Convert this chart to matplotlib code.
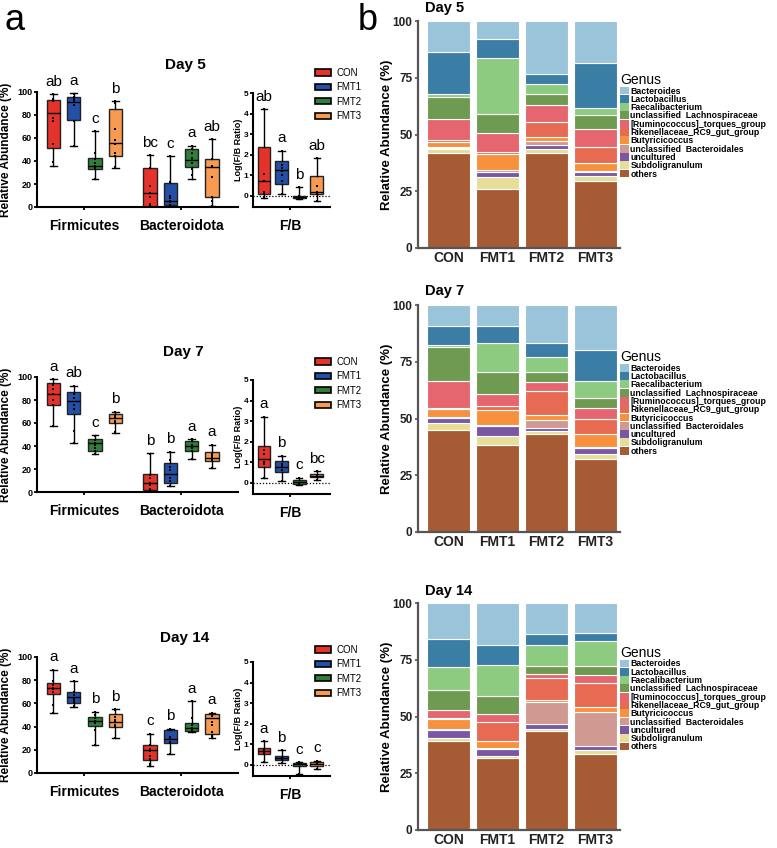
import matplotlib
matplotlib.use("Agg")
import matplotlib.pyplot as plt
from matplotlib.patches import Patch
import numpy as np

plt.rcParams['font.family'] = ['Liberation Sans', 'DejaVu Sans']

# ---------------- panel a : box plots ----------------
groups = ["CON", "FMT1", "FMT2", "FMT3"]
box_colors = ["#E5322A", "#2350A6", "#2F7F3A", "#F79A52"]
phyla = ["Firmicutes", "Bacteroidota"]
days = ["Day 5", "Day 7", "Day 14"]

# box stats per group: [whislo, q1, med, q3, whishi]
d5_firm_box = [[36, 51, 82, 93, 98], [53, 76, 91, 96, 99], [24, 33, 36, 43, 66], [34, 44, 56, 85, 92]]
d5_bac_box = [[0, 0, 12, 34, 45], [0, 2, 5, 21, 44], [24, 35, 41, 50, 53], [1, 9, 35, 42, 59]]
d5_fb_box = [[-0.1, 0.1, 0.7, 2.35, 4.2], [0.08, 0.55, 1.25, 1.7, 2.2], [-0.15, -0.12, -0.08, 0.0, 0.42], [-0.25, 0.1, 0.2, 0.97, 1.82]]
d5_firm_pts = [[98, 94, 92, 77, 75, 55, 39], [98, 96, 95, 93, 91, 89, 75, 53], [66, 47, 42, 38, 36, 35, 33, 24], [92, 90, 68, 58, 55, 47, 44, 35]]
d5_bac_pts = [[45, 34, 18, 12, 9, 3, 1], [44, 22, 10, 8, 5, 4, 2, 1], [53, 50, 47, 43, 41, 38, 33, 28], [59, 42, 36, 35, 26, 9, 5, 1]]
d5_fb_pts = [[4.2, 1.05, 0.7, 0.2, 0.1, -0.1], [2.2, 1.5, 1.35, 1.2, 1.0, 0.7, 0.1], [0.42, 0.0, -0.08, -0.12, -0.15], [1.82, 0.45, 0.2, 0.1, -0.25]]
d5_letters = [["ab", "a", "c", "b"], ["bc", "c", "a", "ab"], ["ab", "a", "b", "ab"]]

d7_firm_box = [[57, 76, 85, 95, 98], [43, 68, 79, 87, 92.5], [33, 36, 43, 46, 49.5], [51.5, 60, 64, 68, 70]]
d7_bac_box = [[0, 2, 7.5, 16, 33.5], [5, 7.5, 16, 25, 35], [29, 36, 40, 44, 46], [21, 27, 30, 35, 41]]
d7_fb_box = [[0.22, 0.75, 1.15, 1.78, 3.2], [0.08, 0.5, 0.78, 1.08, 1.3], [-0.1, -0.05, 0.02, 0.12, 0.25], [0.15, 0.28, 0.33, 0.42, 0.55]]
d7_firm_pts = [[98, 93, 90, 85, 80, 76, 57], [92, 85, 82, 76, 72, 53, 43], [49, 45, 43, 41, 38, 36, 33], [70, 66, 64, 62, 61, 60, 52]]
d7_bac_pts = [[33, 15, 12, 8, 6, 3, 1], [35, 28, 22, 19, 12, 10, 5], [46, 44, 41, 39, 38, 36, 29], [41, 33, 31, 30, 29, 28, 21]]
d7_fb_pts = [[3.2, 1.6, 1.4, 1.0, 0.9, 0.22], [1.3, 0.9, 0.8, 0.6, 0.1], [0.25, 0.0, -0.1], [0.55, 0.33, 0.15]]
d7_letters = [["a", "ab", "c", "b"], ["b", "b", "a", "a"], ["a", "b", "c", "bc"]]

d14_firm_box = [[51.5, 68, 73, 78, 89], [57, 60, 65.5, 70, 79], [24, 40.5, 45, 48, 53], [30, 39.5, 44, 51, 55]]
d14_bac_box = [[6, 11, 20, 24, 34], [16, 26, 29, 37, 38], [35, 36, 39, 43, 62], [30, 34, 47, 51, 52]]
d14_fb_box = [[0.15, 0.5, 0.68, 0.83, 1.13], [0.1, 0.25, 0.33, 0.42, 0.7], [-0.45, -0.05, 0.03, 0.08, 0.12], [-0.2, -0.08, 0.05, 0.12, 0.2]]
d14_firm_pts = [[89, 79, 76, 73, 72, 70, 59, 52], [79, 70, 67, 65, 63, 61, 58], [53, 50, 47, 45, 44, 43, 37, 24], [55, 54, 48, 46, 44, 41, 40, 30]]
d14_bac_pts = [[34, 24, 21, 19, 15, 12, 8, 6], [38, 37, 31, 30, 29, 27, 26, 16], [62, 47, 41, 39, 38, 37, 36, 35], [52, 50, 49, 44, 41, 35, 32, 30]]
d14_fb_pts = [[1.13, 0.75, 0.65, 0.55, 0.15], [0.7, 0.35, 0.3, 0.1], [0.12, 0.03, -0.45], [0.2, 0.05, -0.2]]
d14_letters = [["a", "a", "b", "b"], ["c", "b", "a", "a"], ["a", "b", "c", "c"]]

# ---------------- panel b : stacked bars ----------------
genera = ["others", "Subdoligranulum", "uncultured", "unclassified  Bacteroidales", "Butyricicoccus",
          "Rikenellaceae_RC9_gut_group", "[Ruminococcus]_torques_group", "unclassified  Lachnospiraceae",
          "Faecalibacterium", "Lactobacillus", "Bacteroides"]
genus_colors = ["#A65B34", "#E6DE98", "#7B57A3", "#D09A92", "#F7913D", "#E66B52", "#E5666F",
                "#6E9A52", "#8DCB80", "#3A7EA6", "#9AC4D9"]

# rows = genera (bottom to top), cols = CON, FMT1, FMT2, FMT3 (%)
abund_day5 = [[41.8, 26.0, 41.8, 29.3], [1.7, 5.2, 1.7, 2.2], [0.7, 2.5, 1.7, 1.9], [0.5, 0.5, 1.8, 0.6],
              [1.8, 7.4, 1.8, 3.4], [1.0, 0.7, 6.9, 7.3], [9.2, 8.3, 7.1, 7.6], [9.7, 8.4, 5.1, 6.1],
              [1.3, 24.9, 4.2, 3.2], [18.8, 8.1, 4.6, 19.8], [13.5, 8.0, 23.3, 18.6]]
abund_day7 = [[44.8, 38.2, 43.3, 32.2], [3.2, 4.0, 1.2, 2.2], [2.2, 4.4, 1.5, 2.5], [0.4, 0.4, 3.5, 0.4],
              [3.7, 6.6, 2.2, 5.9], [0.3, 2.0, 10.2, 6.7], [11.7, 5.3, 4.0, 4.7], [15.1, 9.8, 4.8, 4.4],
              [1.0, 12.5, 6.6, 7.6], [8.5, 7.7, 5.9, 13.6], [9.1, 9.1, 16.8, 19.8]]
abund_day14 = [[39.3, 31.6, 43.7, 33.4], [1.4, 1.0, 0.7, 1.9], [3.4, 3.1, 2.1, 1.8], [0.5, 0.5, 9.8, 14.8],
               [4.4, 2.8, 1.1, 2.5], [0.4, 8.5, 9.5, 10.3], [3.6, 3.7, 1.8, 3.4], [8.8, 7.9, 3.4, 4.3],
               [10.0, 13.5, 9.5, 11.0], [12.3, 8.7, 4.7, 3.4], [15.9, 18.7, 13.7, 13.2]]

W, H = 777, 848
fig = plt.figure(figsize=(W / 100, H / 100), dpi=100)


def rect(left, right, top, bottom):
    return [left / W, 1 - bottom / H, (right - left) / W, (bottom - top) / H]


def draw_boxes(ax, positions, stats, pts, letters, width, letter_size):
    bst = [dict(whislo=s[0], q1=s[1], med=s[2], q3=s[3], whishi=s[4], fliers=[]) for s in stats]
    bp = ax.bxp(bst, positions=positions, widths=width, patch_artist=True, showfliers=False,
                boxprops=dict(edgecolor="#222222", linewidth=1.0),
                medianprops=dict(color="black", linewidth=1.0),
                whiskerprops=dict(color="black", linewidth=1.0),
                capprops=dict(color="black", linewidth=1.0))
    for patch, c in zip(bp["boxes"], box_colors):
        patch.set_facecolor(c)
    for p, v in zip(positions, pts):
        ax.scatter([p] * len(v), v, s=3, c="black", marker="s", zorder=4, linewidths=0)
    for p, s, lab in zip(positions, stats, letters):
        ax.annotate(lab, (p, s[4]), xytext=(0, 4), textcoords="offset points",
                    ha="center", va="bottom", fontsize=letter_size)


def style_axis(ax):
    for side in ["top", "right"]:
        ax.spines[side].set_visible(False)
    for side in ["left", "bottom"]:
        ax.spines[side].set_linewidth(1.5)
    ax.tick_params(width=1.3, length=2.5, direction="out", pad=1)


offsets = [-0.32, -0.11, 0.11, 0.32]
panel_a = [
    (d5_firm_box, d5_bac_box, d5_fb_box, d5_firm_pts, d5_bac_pts, d5_fb_pts, d5_letters),
    (d7_firm_box, d7_bac_box, d7_fb_box, d7_firm_pts, d7_bac_pts, d7_fb_pts, d7_letters),
    (d14_firm_box, d14_bac_box, d14_fb_box, d14_firm_pts, d14_bac_pts, d14_fb_pts, d14_letters),
]
main_rows = [(92, 207), (377, 492), (657, 773)]
inset_rows = [(93, 207), (380, 494), (662, 776)]
title_pos = [(185, 65), (183, 352), (185, 638)]
legend_top = [68, 357, 645]

for i, (fbox, bbox_, rbox, fpts, bpts, rpts, lets) in enumerate(panel_a):
    ax = fig.add_axes(rect(37, 238, *main_rows[i]))
    draw_boxes(ax, [0 + o for o in offsets], fbox, fpts, lets[0], 0.14, 11)
    draw_boxes(ax, [1 + o for o in offsets], bbox_, bpts, lets[1], 0.14, 11)
    ax.set_xlim(-0.49, 1.59)
    ax.set_ylim(0, 100)
    ax.set_yticks([0, 20, 40, 60, 80, 100])
    ax.set_xticks([0, 1])
    style_axis(ax)
    ax.set_xticklabels(phyla, fontsize=10, fontweight="bold")
    ax.tick_params(axis="x", pad=6)
    for t in ax.get_yticklabels():
        t.set_fontsize(6.5)
        t.set_fontweight("bold")
    ax.set_ylabel("Relative Abundance (%)", fontsize=8.5, fontweight="bold")
    ax.yaxis.set_label_coords(-0.122, 0.5)

    axi = fig.add_axes(rect(253, 330, *inset_rows[i]))
    draw_boxes(axi, [0, 1, 2, 3], rbox, rpts, lets[2], 0.72, 11)
    axi.axhline(0, color="black", linestyle=(0, (1, 1.5)), linewidth=0.9, zorder=0)
    axi.set_xlim(-0.63, 3.75)
    axi.set_ylim(-0.55, 5)
    axi.set_yticks([0, 1, 2, 3, 4, 5])
    axi.set_xticks([1.5])
    style_axis(axi)
    axi.set_xticklabels(["F/B"], fontsize=10, fontweight="bold")
    axi.tick_params(axis="x", pad=6)
    for t in axi.get_yticklabels():
        t.set_fontsize(6)
        t.set_fontweight("bold")
    axi.set_ylabel("Log(F/B Ratio)", fontsize=6.5, fontweight="bold")
    axi.yaxis.set_label_coords(-0.13, 0.5)

    fig.text(title_pos[i][0] / W, 1 - title_pos[i][1] / H, days[i], fontsize=11,
             fontweight="bold", ha="center", va="center")

    handles = [Patch(facecolor=c, edgecolor="black", linewidth=1.2) for c in box_colors]
    fig.legend(handles, groups, loc="upper left", bbox_to_anchor=(315 / W, 1 - legend_top[i] / H),
               frameon=False, fontsize=7, handlelength=1.6, handleheight=0.6,
               handletextpad=0.6, labelspacing=0.45, borderpad=0, borderaxespad=0)

# panel b
bar_rows = [(21, 248), (305, 532), (603, 830)]
bar_title_y = [8, 291, 591]
legend_anchor = [0.77, 0.80, 0.81]
x = np.arange(len(groups))
for i, abund in enumerate([abund_day5, abund_day7, abund_day14]):
    ax = fig.add_axes(rect(418, 620, *bar_rows[i]))
    bottom = np.zeros(len(groups))
    for vals, c in zip(abund, genus_colors):
        ax.bar(x, vals, bottom=bottom, width=0.88, color=c, edgecolor="white", linewidth=0.8)
        bottom += np.array(vals)
    ax.set_xlim(-0.62, 3.5)
    ax.set_ylim(0, 100)
    ax.set_yticks([0, 25, 50, 75, 100])
    ax.set_xticks(x)
    ax.set_xticklabels(groups, fontsize=10, fontweight="bold", color="#222222")
    for t in ax.get_yticklabels():
        t.set_fontsize(8.5)
        t.set_fontweight("bold")
        t.set_color("#222222")
    ax.set_ylabel("Relative Abundance (%)", fontsize=9.5, fontweight="bold")
    ax.yaxis.set_label_coords(-0.125, 0.5)
    for side in ["top", "right"]:
        ax.spines[side].set_visible(False)
    for side in ["left", "bottom"]:
        ax.spines[side].set_linewidth(1.6)
        ax.spines[side].set_color("#555555")
    ax.tick_params(width=1.2, length=2.5, color="#555555", pad=1.5)
    ax.tick_params(axis="x", length=0, pad=2)
    fig.text(425 / W, 1 - bar_title_y[i] / H, days[i], fontsize=10.5, fontweight="bold",
             ha="left", va="center")

    handles = [Patch(facecolor=c, edgecolor="none") for c in genus_colors[::-1]]
    ax.legend(handles, genera[::-1], loc="upper left", bbox_to_anchor=(1.0, legend_anchor[i]),
              frameon=False, title="Genus", alignment="left", borderpad=0, borderaxespad=0,
              prop=dict(size=6.3, weight="bold"), title_fontsize=10,
              handlelength=1.0, handleheight=1.0, handletextpad=0.2, labelspacing=-0.08)

fig.text(15 / W, 1 - 20 / H, "a", fontsize=26, ha="center", va="center")
fig.text(368 / W, 1 - 20 / H, "b", fontsize=26, ha="center", va="center")

fig.savefig("out.png", dpi=100)
